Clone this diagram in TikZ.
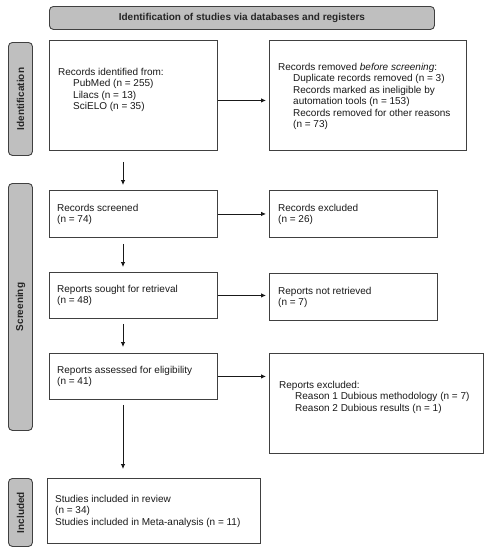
\documentclass[tikz,border=0pt]{standalone}
\usepackage{fontspec}
\setmainfont{Liberation Sans}
\usetikzlibrary{arrows.meta,calc}
\begin{document}
\begin{tikzpicture}[x=1pt,y=1pt,
  box/.style={draw=black!75,line width=0.9pt,fill=white,inner sep=0pt,anchor=north west},
  phase/.style={draw=black!75,line width=0.9pt,fill=black!25,rounded corners=4pt,inner sep=0pt,anchor=north west},
  txt/.style={inner sep=0pt,anchor=north west,align=left,text=black!90,font=\fontsize{10}{11.5}\selectfont},
  phtxt/.style={inner sep=0pt,text=black!85,font=\fontsize{10}{12}\selectfont\bfseries},
  arr/.style={draw=black!90,line width=0.8pt,-{Latex[length=5pt,width=4.5pt]}}]
\useasboundingbox (0,0) rectangle (488,-550);
\newcommand{\ind}{\hspace*{15pt}}
% title
\node[phase,minimum width=385,minimum height=23] (title) at (49,-6) {};
\node[phtxt] at (title.center) {Identification of studies via databases and registers};
% phase labels
\node[phase,minimum width=24,minimum height=113] (s1) at (8,-42) {};
\node[phtxt,rotate=90] at (s1.center) {Identification};
\node[phase,minimum width=24,minimum height=247] (s2) at (8,-183) {};
\node[phtxt,rotate=90] at (s2.center) {Screening};
\node[phase,minimum width=24,minimum height=68] (s3) at (8,-478) {};
\node[phtxt,rotate=90] at (s3.center) {Included};
% boxes
\node[box,minimum width=168,minimum height=110] (b1) at (49,-40) {};
\node[box,minimum width=197,minimum height=110] (b2) at (269,-40) {};
\node[box,minimum width=168,minimum height=47] (b3) at (49,-190) {};
\node[box,minimum width=168,minimum height=47] (b4) at (269,-190) {};
\node[box,minimum width=168,minimum height=46] (b5) at (49,-272) {};
\node[box,minimum width=168,minimum height=47] (b6) at (269,-273) {};
\node[box,minimum width=168,minimum height=46] (b7) at (49,-353) {};
\node[box,minimum width=214,minimum height=100] (b8) at (269,-353) {};
\node[box,minimum width=213,minimum height=65] (b9) at (47,-478) {};
% texts
\node[txt] (t1) at ($(b1.north west)+(9,-28)$) {Records identified from:\\\ind PubMed (n = 255)\\\ind Lilacs (n = 13)\\\ind SciELO (n = 35)};
\node[txt] (t2) at ($(b2.north west)+(9,-23)$) {Records removed \textit{before screening}:\\\ind Duplicate records removed (n = 3)\\\ind Records marked as ineligible by\\\ind automation tools (n = 153)\\\ind Records removed for other reasons\\\ind (n = 73)};
\node[txt] (t3) at ($(b3.north west)+(8,-14)$) {Records screened\\(n = 74)};
\node[txt] (t4) at ($(b4.north west)+(9,-14)$) {Records excluded\\(n = 26)};
\node[txt] (t5) at ($(b5.north west)+(8,-13)$) {Reports sought for retrieval\\(n = 48)};
\node[txt] (t6) at ($(b6.north west)+(9,-14)$) {Reports not retrieved\\(n = 7)};
\node[txt] (t7) at ($(b7.north west)+(8,-13)$) {Reports assessed for eligibility\\(n = 41)};
\node[txt] (t8) at ($(b8.north west)+(10,-28)$) {Reports excluded:\\\hspace*{16pt}Reason 1 Dubious methodology (n = 7)\\\hspace*{16pt}Reason 2 Dubious results (n = 1)};
\node[txt] (t9) at ($(b9.north west)+(8,-17)$) {Studies included in review\\(n = 34)\\Studies included in Meta-analysis (n = 11)};
% horizontal arrows
\draw[arr,shorten >=3pt] ([yshift=-5pt]b1.east) -- ([yshift=-5pt]b1.east -| b2.west);
\draw[arr,shorten >=3pt] (b3.east) -- (b3.east -| b4.west);
\draw[arr,shorten >=3pt] (b5.east) -- (b5.east -| b6.west);
\draw[arr,shorten >=3pt] (b7.east) -- (b7.east -| b8.west);
% vertical arrows
\draw[arr,shorten <=11pt,shorten >=5pt] ([xshift=74pt]b1.south west) -- ([xshift=74pt]b1.south west |- b3.north);
\draw[arr,shorten <=6pt,shorten >=5pt] ([xshift=74pt]b3.south west) -- ([xshift=74pt]b3.south west |- b5.north);
\draw[arr,shorten <=5pt,shorten >=6pt] ([xshift=74pt]b5.south west) -- ([xshift=74pt]b5.south west |- b7.north);
\draw[arr,shorten <=5pt,shorten >=9pt] ([xshift=74pt]b7.south west) -- ([xshift=74pt]b7.south west |- b9.north);
\end{tikzpicture}
\end{document}
